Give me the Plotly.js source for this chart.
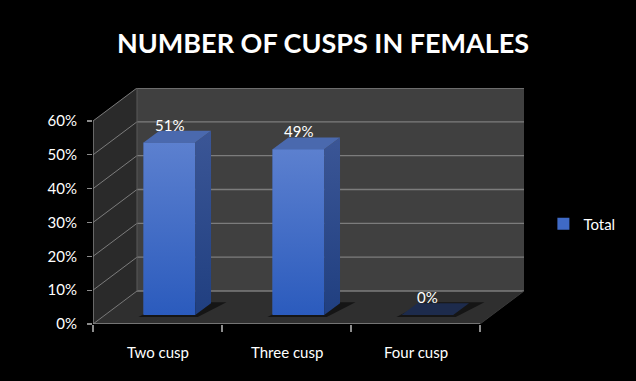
<!DOCTYPE html>
<html>
<head>
<meta charset="utf-8">
<script src="https://cdn.plot.ly/plotly-3.0.1.min.js"></script>
<style>
  html, body { margin: 0; padding: 0; background: #000; }
  #chart { width: 636px; height: 381px; }
</style>
</head>
<body>
<div id="chart"></div>
<script>
// Chart data
const categories = ['Two cusp', 'Three cusp', 'Four cusp'];
const shares = [51, 49, 0];           // percent of females
const yTickVals = [0, 10, 20, 30, 40, 50, 60];
const yTickText = ['0%', '10%', '20%', '30%', '40%', '50%', '60%'];
const seriesName = 'Total';
const chartTitle = 'NUMBER OF CUSPS IN FEMALES';

// Box geometry of the pseudo-3D frame (axis units)
const DX = 0.341;          // depth shift along x
const DY = 9.75;           // depth shift along y
const X0 = -0.5;
const X1 = categories.length - 0.5;
const YMAX = yTickVals[yTickVals.length - 1];
const BAR_W = 0.4;
const F_FRONT = 0.27;      // depth fraction where the bar front face sits
const F_BACK = 0.63;       // depth fraction of the bar back face

const fx = DX * F_FRONT, fy = DY * F_FRONT;
const ddx = DX * (F_BACK - F_FRONT), ddy = DY * (F_BACK - F_FRONT);

const FONT = 'Lato, "Open Sans", sans-serif';
const GRID = '#7c7c7c';
const AXIS = '#8c8c8c';

const P = (x, y) => x + ',' + y;
function poly(pts) {
  return 'M' + pts.map(p => P(p[0], p[1])).join('L') + 'Z';
}

// Walls, floor, gridlines and axis lines
const shapes = [];
// left wall
shapes.push({type: 'path', xref: 'x', yref: 'y', layer: 'below', line: {width: 0},
  fillcolor: '#2a2a2a',
  path: poly([[X0, 0], [X0 + DX, DY], [X0 + DX, YMAX + DY], [X0, YMAX]])});
// back wall
shapes.push({type: 'path', xref: 'x', yref: 'y', layer: 'below', line: {width: 0},
  fillcolor: '#404040',
  path: poly([[X0 + DX, DY], [X1 + DX, DY], [X1 + DX, YMAX + DY], [X0 + DX, YMAX + DY]])});
// floor
shapes.push({type: 'path', xref: 'x', yref: 'y', layer: 'below', line: {width: 0},
  fillcolor: '#2f2f2f',
  path: poly([[X0, 0], [X1, 0], [X1 + DX, DY], [X0 + DX, DY]])});
// gridlines on the back and left walls
yTickVals.forEach(v => {
  shapes.push({type: 'line', xref: 'x', yref: 'y', layer: 'below',
    x0: X0 + DX, x1: X1 + DX, y0: v + DY, y1: v + DY, line: {color: GRID, width: 1.3}});
  shapes.push({type: 'line', xref: 'x', yref: 'y', layer: 'below',
    x0: X0, x1: X0 + DX, y0: v, y1: v + DY, line: {color: GRID, width: 1}});
});
// wall corner edge
shapes.push({type: 'line', xref: 'x', yref: 'y', layer: 'below',
  x0: X0 + DX, x1: X0 + DX, y0: DY, y1: YMAX + DY, line: {color: '#5a5a5a', width: 1}});
// front axis lines and floor edge
shapes.push({type: 'line', xref: 'x', yref: 'y', layer: 'below',
  x0: X0, x1: X0, y0: 0, y1: YMAX, line: {color: AXIS, width: 1.3}});
shapes.push({type: 'line', xref: 'x', yref: 'y', layer: 'below',
  x0: X0, x1: X1, y0: 0, y1: 0, line: {color: AXIS, width: 1.3}});
shapes.push({type: 'line', xref: 'x', yref: 'y', layer: 'below',
  x0: X1, x1: X1 + DX, y0: 0, y1: DY, line: {color: '#3a3a3a', width: 1}});

const traces = [];

// soft shadows on the floor behind each bar
shares.forEach((v, i) => {
  const xl = i - BAR_W / 2 + fx, xr = i + BAR_W / 2 + fx;
  traces.push({type: 'scatter', mode: 'lines', fill: 'toself', hoverinfo: 'skip',
    showlegend: false, line: {width: 0}, fillcolor: 'rgba(0,0,0,0.55)',
    x: [xl - 0.04, xr + 0.02, xr + ddx + 0.12, xl + ddx + 0.06],
    y: [fy - 0.6, fy - 0.6, fy + ddy + 0.3, fy + ddy + 0.3]});
});

// bar front faces (legend entry)
traces.push({type: 'bar', name: seriesName,
  x: categories.map((c, i) => i + fx), y: shares, base: fy, width: BAR_W,
  marker: {color: '#3f6ac6', line: {width: 0}}, hoverinfo: 'skip'});

shares.forEach((v, i) => {
  const xl = i - BAR_W / 2 + fx, xr = i + BAR_W / 2 + fx;
  const top = fy + v;
  if (v > 0) {
    // shaded front face
    traces.push({type: 'scatter', mode: 'lines', fill: 'toself', hoverinfo: 'skip',
      showlegend: false, line: {width: 0},
      fillgradient: {type: 'vertical', colorscale: [[0, '#2b5bbd'], [1, '#5c80cf']]},
      x: [xl, xr, xr, xl], y: [fy, fy, top, top]});
    // right side face
    traces.push({type: 'scatter', mode: 'lines', fill: 'toself', hoverinfo: 'skip',
      showlegend: false, line: {width: 0},
      fillgradient: {type: 'vertical', colorscale: [[0, '#203f80'], [1, '#3b5696']]},
      x: [xr, xr + ddx, xr + ddx, xr], y: [fy, fy + ddy, top + ddy, top]});
  }
  // top face
  traces.push({type: 'scatter', mode: 'lines', fill: 'toself', hoverinfo: 'skip',
    showlegend: false, line: {width: 0},
    fillcolor: v > 0 ? '#4a69ae' : '#1d2b4c',
    x: [xl, xr, xr + ddx, xl + ddx], y: [top, top, top + ddy, top + ddy]});
});

// value labels and category labels
const annotations = [];
shares.forEach((v, i) => {
  annotations.push({xref: 'x', yref: 'y', x: i + fx, y: fy + v + ddy,
    text: v + '%', showarrow: false, xanchor: 'center', yanchor: 'middle', yshift: 6,
    font: {family: FONT, size: 15, color: '#ffffff'}});
  annotations.push({xref: 'x', yref: 'y', x: i, y: 0,
    text: categories[i], showarrow: false, xanchor: 'center', yanchor: 'middle', yshift: -28,
    font: {family: FONT, size: 15, color: '#ffffff'}});
});

const layout = {
  width: 636, height: 381,
  paper_bgcolor: '#000000', plot_bgcolor: '#000000',
  margin: {l: 93, r: 112, t: 88, b: 57},
  title: {text: '<b>' + chartTitle + '</b>', xref: 'container', x: 0.508, xanchor: 'center',
    yref: 'container', y: 0.885, yanchor: 'middle',
    font: {family: FONT, size: 27, color: '#ffffff'}},
  xaxis: {range: [X0, X1 + DX], tickvals: [-0.5, 0.5, 1.5, 2.5], showticklabels: false,
    ticks: 'outside', ticklen: 7, tickcolor: AXIS, tickwidth: 1.3,
    showgrid: false, zeroline: false, showline: false, fixedrange: true},
  yaxis: {range: [0, YMAX + DY], tickmode: 'array', tickvals: yTickVals, ticktext: yTickText,
    ticks: 'outside', ticklen: 5, tickcolor: AXIS, tickwidth: 1.3,
    ticklabelstandoff: 7,
    tickfont: {family: FONT, size: 15, color: '#ffffff'},
    showgrid: false, zeroline: false, showline: false, fixedrange: true},
  showlegend: true,
  legend: {x: 1.045, xanchor: 'left', y: 0.424, yanchor: 'middle',
    bgcolor: 'rgba(0,0,0,0)', itemwidth: 30,
    font: {family: FONT, size: 15, color: '#ffffff'}},
  hovermode: false,
  shapes: shapes,
  annotations: annotations
};

Plotly.newPlot('chart', traces, layout, {displayModeBar: false, staticPlot: true});
</script>
</body>
</html>
